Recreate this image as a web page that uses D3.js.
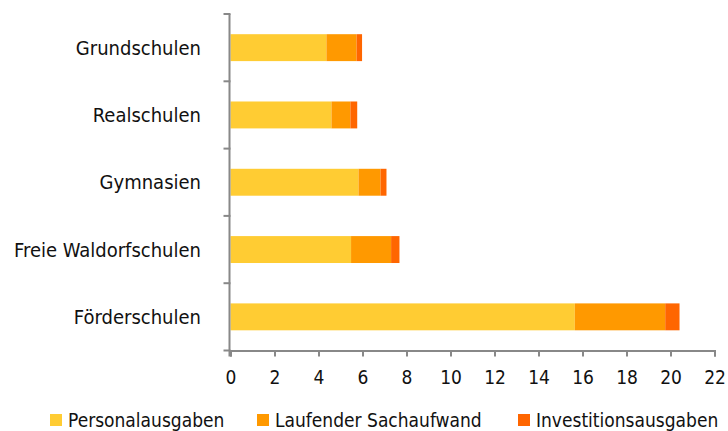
<!DOCTYPE html>
<html lang="de">
<head>
<meta charset="UTF-8">
<title>Ausgaben je Schüler</title>
<script src="https://d3js.org/d3.v7.min.js"></script>
<style>
  body { margin: 0; background: #fff; }
  svg { display: block; font-family: "DejaVu Sans Condensed", "DejaVu Sans", sans-serif; }
</style>
</head>
<body>
<svg id="chart" width="728" height="431"></svg>
<script>
// Schularten (von oben nach unten)
const categories = ["Grundschulen", "Realschulen", "Gymnasien", "Freie Waldorfschulen", "Förderschulen"];
const seriesNames = ["Personalausgaben", "Laufender Sachaufwand", "Investitionsausgaben"];
const personal  = [4.36, 4.59, 5.82, 5.48, 15.65];
const sachaufw  = [1.37, 0.86, 1.00, 1.82, 4.11];
const invest    = [0.25, 0.31, 0.27, 0.38, 0.65];
const xTicks = [0, 2, 4, 6, 8, 10, 12, 14, 16, 18, 20, 22];
const colors = ["#FFCC33", "#FF9900", "#FF6600"];

const rows = categories.map((c, i) => ({
  cat: c, Personalausgaben: personal[i], "Laufender Sachaufwand": sachaufw[i], Investitionsausgaben: invest[i]
}));

const svg = d3.select("#chart");
const mLeft = 230.5, mRight = 714.5, mTop = 14, mBottom = 350.5;

const x = d3.scaleLinear().domain([0, 22]).range([mLeft, mRight]);
const y = d3.scaleBand().domain(categories).range([mTop, mBottom]).paddingInner(0.6).paddingOuter(0.3);

const stack = d3.stack().keys(seriesNames)(rows);
const color = d3.scaleOrdinal().domain(seriesNames).range(colors);

// bars
svg.append("g").selectAll("g")
  .data(stack).join("g")
  .attr("fill", d => color(d.key))
  .selectAll("rect")
  .data(d => d).join("rect")
  .attr("x", d => x(d[0]))
  .attr("width", d => x(d[1]) - x(d[0]))
  .attr("y", d => y(d.data.cat))
  .attr("height", y.bandwidth());

// x axis
const xAxis = svg.append("g")
  .attr("transform", `translate(0,${mBottom})`)
  .call(d3.axisBottom(x).tickValues(xTicks).tickSize(6).tickPadding(14));
xAxis.select(".domain").attr("stroke", "#888").attr("stroke-width", 2);
xAxis.selectAll(".tick line").attr("stroke", "#888").attr("stroke-width", 2);
xAxis.selectAll("text").attr("font-size", 19).attr("fill", "#111")
  .attr("font-family", "DejaVu Sans Condensed");

// y axis line with boundary ticks
const step = (mBottom - mTop) / categories.length;
const yg = svg.append("g");
yg.append("line").attr("x1", mLeft - 1).attr("x2", mLeft - 1).attr("y1", mTop).attr("y2", mBottom + 6)
  .attr("stroke", "#888").attr("stroke-width", 2);
yg.selectAll("line.tk").data(d3.range(categories.length + 1)).join("line")
  .attr("class", "tk")
  .attr("x1", mLeft - 7).attr("x2", mLeft)
  .attr("y1", i => mTop + i * step).attr("y2", i => mTop + i * step)
  .attr("stroke", "#888").attr("stroke-width", 2);
yg.selectAll("text").data(categories).join("text")
  .attr("x", 201)
  .attr("y", d => y(d) + y.bandwidth() / 2)
  .attr("dy", "0.35em")
  .attr("text-anchor", "end")
  .attr("font-size", 20)
  .attr("fill", "#111")
  .text(d => d);

// legend
const legendX = [50, 257, 518];
const lg = svg.append("g");
seriesNames.forEach((s, i) => {
  lg.append("rect").attr("x", legendX[i]).attr("y", 414).attr("width", 12).attr("height", 12)
    .attr("fill", colors[i]);
  lg.append("text").attr("x", legendX[i] + 18).attr("y", 427)
    .attr("font-size", 19).attr("fill", "#111").text(s);
});
</script>
</body>
</html>
